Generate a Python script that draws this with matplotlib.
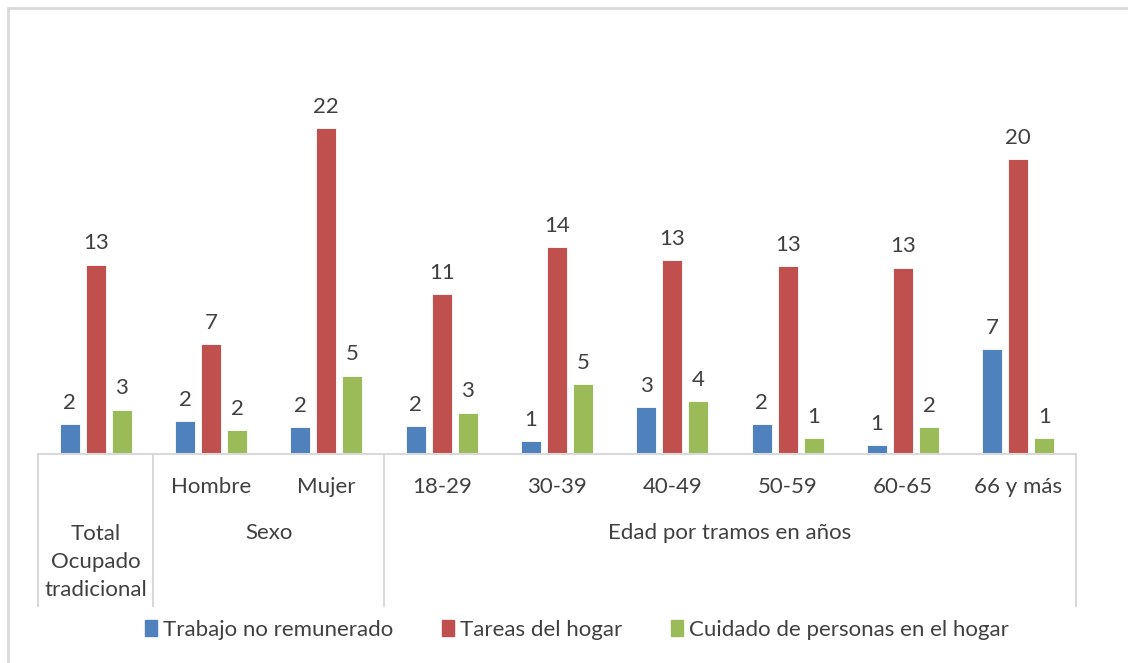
import matplotlib.pyplot as plt
import numpy as np
from matplotlib.lines import Line2D
from matplotlib.patches import Patch

plt.rcParams['font.family'] = ['Lato', 'DejaVu Sans']

# data (percent)
categories = ["Total\nOcupado\ntradicional", "Hombre", "Mujer",
              "18-29", "30-39", "40-49", "50-59", "60-65", "66 y más"]
groups = [("Sexo", 1, 3), ("Edad por tramos en años", 3, 9)]
series_names = ["Trabajo no remunerado", "Tareas del hogar",
                "Cuidado de personas en el hogar"]
trabajo = [2.0, 2.2, 1.8, 1.9, 0.9, 3.2, 2.0, 0.6, 7.1]
tareas = [12.8, 7.4, 22.0, 10.8, 14.0, 13.1, 12.7, 12.6, 19.9]
cuidado = [3.0, 1.6, 5.3, 2.8, 4.7, 3.6, 1.1, 1.8, 1.1]

colors = ["#4F81BD", "#C0504D", "#9BBB59"]
txt = "#404040"
grid = "#d9d9d9"
fs = 16

W, H = 1128, 663
fig = plt.figure(figsize=(W / 100, H / 100), dpi=100)
x0, x1, ybase, ytop = 38, 1076, 454, 84
ax = fig.add_axes([x0 / W, 1 - ybase / H, (x1 - x0) / W, (ybase - ytop) / H])

n = len(categories)
x = np.arange(n)
bw = 0.173
step = 0.225
for k, vals in enumerate([trabajo, tareas, cuidado]):
    pos = x + (k - 1) * step
    ax.bar(pos, vals, width=bw, color=colors[k], edgecolor="white", linewidth=0.6)
    for p, v in zip(pos, vals):
        ax.annotate(f"{v:.0f}", (p, v), xytext=(0, 8), textcoords="offset points",
                    ha="center", va="bottom", fontsize=fs, color=txt)

ax.set_xlim(-0.5, n - 0.5)
ax.set_ylim(0, 25)
ax.axis("off")

# category axis (two levels)
def fx(v):
    return (x0 + (v + 0.5) * (x1 - x0) / n) / W

def fy(py):
    return 1 - py / H

fig.add_artist(Line2D([x0 / W, x1 / W], [fy(ybase), fy(ybase)], color=grid, lw=1.5))
for b in [-0.5, 0.5, 2.5, n - 0.5]:
    fig.add_artist(Line2D([fx(b), fx(b)], [fy(ybase), fy(606)], color=grid, lw=1.5))

for i in range(1, n):
    fig.text(fx(i), fy(487), categories[i], ha="center", va="center", fontsize=fs, color=txt)
fig.text(fx(0), fy(562), categories[0], ha="center", va="center", fontsize=fs,
         color=txt, linespacing=1.5)
for name, a, b in groups:
    fig.text(fx((a + b - 1) / 2), fy(533), name, ha="center", va="center",
             fontsize=fs, color=txt)

# legend
handles = [Patch(color=c) for c in colors]
fig.legend(handles, series_names, loc="center", bbox_to_anchor=(577 / W, fy(630)),
           ncol=3, frameon=False, fontsize=fs, handlelength=0.55, handleheight=0.75,
           handletextpad=0.25, columnspacing=2.2, labelcolor=txt)

# chart frame (cropped)
fig.add_artist(Line2D([8 / W, 1], [fy(7.5), fy(7.5)], color=grid, lw=2))
fig.add_artist(Line2D([8 / W, 8 / W], [0, fy(7.5)], color=grid, lw=2))

fig.savefig("out.png", dpi=100)
